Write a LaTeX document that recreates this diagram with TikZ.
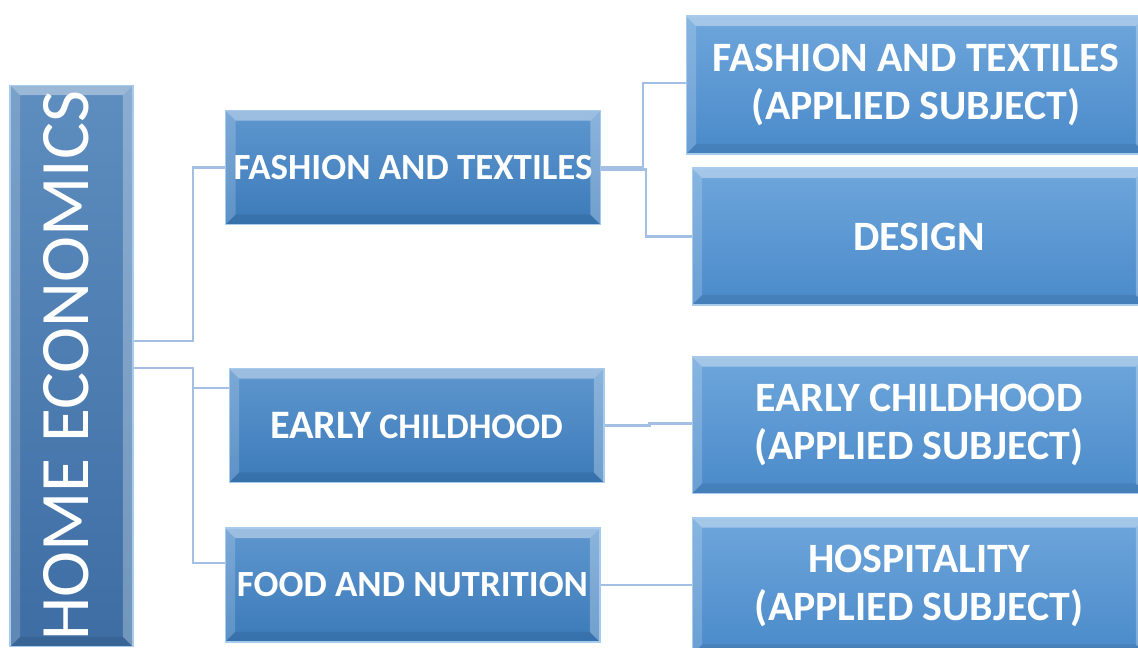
\documentclass[tikz,border=0pt]{standalone}
\usepackage{fontspec}
\usepackage{graphicx}
\setmainfont{Carlito}

\definecolor{linkblue}{HTML}{A3BFE3}
\definecolor{boxedge}{HTML}{A6CBEC}
\definecolor{hometop}{HTML}{5E8DBF}
\definecolor{homebot}{HTML}{3D6DA3}
\definecolor{subjtop}{HTML}{5F97CF}
\definecolor{subjbot}{HTML}{3B7AB9}
\definecolor{coursetop}{HTML}{6EA6DB}
\definecolor{coursebot}{HTML}{4A8ACA}
\newcommand\bevelfaces{%
  \path (path picture bounding box.north west) coordinate (pnw)
        (path picture bounding box.north east) coordinate (pne)
        (path picture bounding box.south west) coordinate (psw)
        (path picture bounding box.south east) coordinate (pse);
  \fill[white,opacity=.38] (pnw) -- (pne) -- ([shift={(-.2cm,-.2cm)}]pne) -- ([shift={(.2cm,-.2cm)}]pnw) -- cycle;
  \fill[white,opacity=.18] (pnw) -- ([shift={(.2cm,-.2cm)}]pnw) -- ([shift={(.2cm,.2cm)}]psw) -- (psw) -- cycle;
  \fill[white,opacity=.28] (pne) -- ([shift={(-.2cm,-.2cm)}]pne) -- ([shift={(-.2cm,.2cm)}]pse) -- (pse) -- cycle;
  \fill[black,opacity=.08] (psw) -- ([shift={(.2cm,.2cm)}]psw) -- ([shift={(-.2cm,.2cm)}]pse) -- (pse) -- cycle;}

\begin{document}
\begin{tikzpicture}[x=0.02cm, y=-0.02cm,
  box/.style={draw=boxedge, line width=0.6pt, inner sep=0pt, align=center, text=white, path picture={\bevelfaces}},
  subject/.style={box, top color=subjtop, bottom color=subjbot,
    minimum width=7.5cm, minimum height=2.28cm, font=\bfseries\fontsize{21}{25}\selectfont},
  course/.style={box, top color=coursetop, bottom color=coursebot,
    minimum width=9.08cm, minimum height=2.74cm, font=\bfseries\fontsize{23.8}{27}\selectfont},
  link/.style={draw=linkblue, line width=1.7pt}]
\useasboundingbox (0,0) rectangle (1138,648);
\clip (0,0) rectangle (1138,648);
\node[box, top color=hometop, bottom color=homebot,
  minimum width=2.46cm, minimum height=11.24cm] (home) at (71.5,366)
  {\rotatebox{90}{\fontsize{39.5}{40}\selectfont HOME ECONOMICS}\hspace*{6pt}};
\node[subject] (fashion) at (413,167.5) {FASHION AND TEXTILES};
\node[subject] (early) at (416.5,425.5) {{\fontsize{23}{25}\selectfont EARLY} {\fontsize{20.5}{25}\selectfont CHILDHOOD}};
\node[subject] (food) at (412.5,585) {FOOD AND NUTRITION};
\node[course, minimum width=9.2cm, minimum height=2.76cm] (fashionapp) at (916,85) {FASHION AND TEXTILES\\(APPLIED SUBJECT)};
\node[course] (design) at (919,236.5) {DESIGN};
\node[course] (earlyapp) at (919,425) {EARLY CHILDHOOD\\(APPLIED SUBJECT)};
\node[course] (hosp) at (919,586) {HOSPITALITY\\(APPLIED SUBJECT)};
% joints
\coordinate (j1) at (193,341);
\coordinate (j2) at (193,368);
\draw[link] (home.east |- j1) -- (j1) |- (fashion.west);
\draw[link] (home.east |- j2) -- (j2) |- (early.west |- 0,388);
\draw[link] (j2) |- (food.west |- 0,563);
\draw[link] (fashion.east) -- ++(42,0) |- (fashionapp.west |- 0,83);
\draw[link] (fashion.east) ++(0,2) -- ++(45,0) |- (design.west);
\draw[link] (early.east) -- ++(45,0) |- (earlyapp.west |- 0,423.5);
\draw[link] (food.east) -- (hosp.west |- food.east);
\end{tikzpicture}
\end{document}
